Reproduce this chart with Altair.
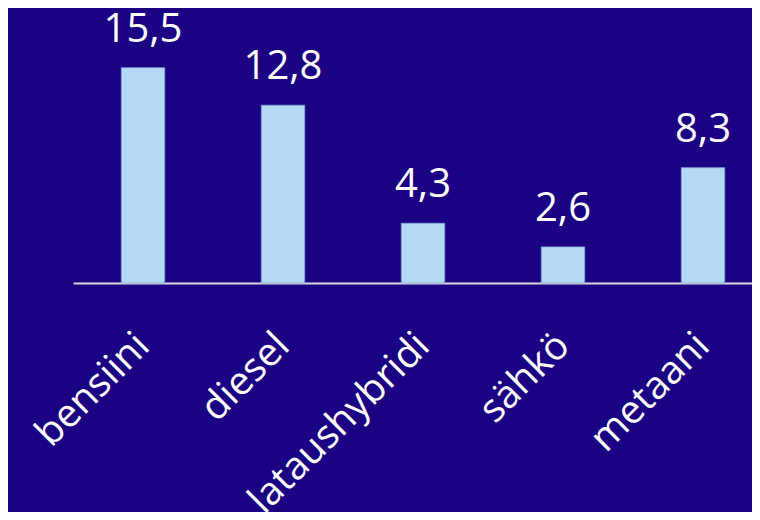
import altair as alt
import pandas as pd

categories = ["bensiini", "diesel", "lataushybridi", "sähkö", "metaani"]
values = [15.5, 12.8, 4.3, 2.6, 8.3]
labels = ["15,5", "12,8", "4,3", "2,6", "8,3"]

df = pd.DataFrame({"cat": categories, "val": values, "lab": labels})

BG = "#1c0083"
FONT = "Open Sans"

x = alt.X("cat:N", sort=categories, title=None,
          scale=alt.Scale(range=[0, 700], paddingInner=0.69, paddingOuter=0.345),
          axis=alt.Axis(labels=False, ticks=False, domainColor="#d9d9d9",
                        domainWidth=2))
y = alt.Y("val:Q", scale=alt.Scale(domain=[0, 19.8], nice=False), axis=None)

bars = alt.Chart(df).mark_bar(color="#b4d9f5", stroke="#7fa6dc", strokeWidth=0.8).encode(x=x, y=y)
text = alt.Chart(df).mark_text(color="white", font=FONT, fontSize=40,
                               baseline="alphabetic", dy=-26).encode(
    x=alt.X("cat:N", sort=categories), y="val:Q", text="lab:N")
catlabels = alt.Chart(df).mark_text(color="white", font=FONT, fontSize=39,
                                    angle=315, align="right", baseline="alphabetic",
                                    dx=-40, dy=52).encode(
    x=alt.X("cat:N", sort=categories), y=alt.datum(0), text="cat:N")

chart = alt.layer(bars, text, catlabels).properties(
    width=679, height=275, background=BG, padding={"left": 65, "top": 0, "right": 0, "bottom": 229},
    autosize=alt.AutoSizeParams(type="none")
).configure_view(stroke=None)

chart.save("out.html", embed_options={"renderer": "svg", "actions": False})
